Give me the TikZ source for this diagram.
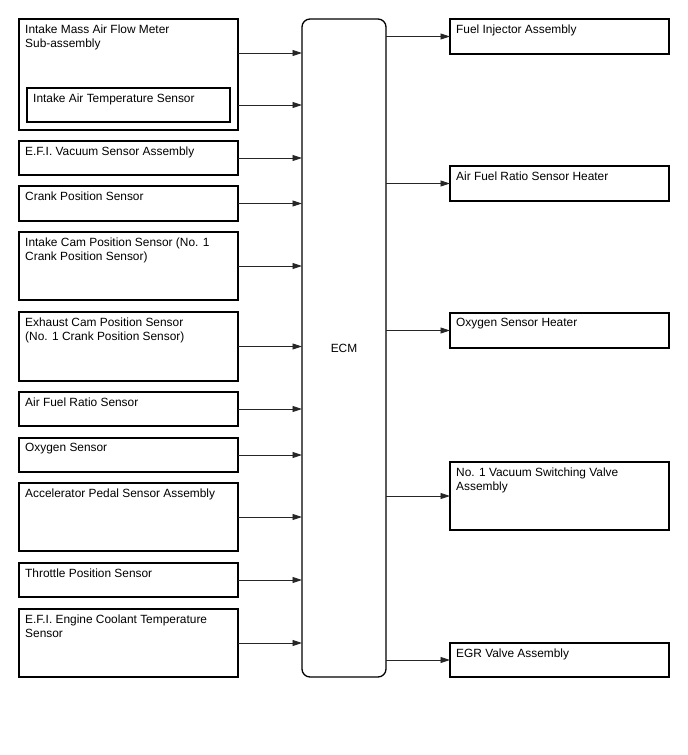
\documentclass[tikz,border=0pt]{standalone}
\usepackage{fontspec}
\setmainfont{Liberation Sans}
\usetikzlibrary{arrows.meta}
\tikzset{
  boxst/.style={draw=black, line width=1.3pt, fill=white, inner sep=0pt, outer sep=0pt, anchor=north west},
  txt/.style={anchor=north west, inner sep=0pt, align=left, font=\fontsize{11.9}{14}\selectfont},
  arr/.style={draw=black!85, line width=0.9pt, -{Triangle[length=9.5pt,width=6pt]}},
  ecmst/.style={inner sep=0pt, outer sep=0pt, anchor=north west, font=\fontsize{11.9}{14}\selectfont}
}
\newcommand{\mybox}[6]{%
  \node[boxst, minimum width=#4pt-#2pt, minimum height=#5pt-#3pt] (#1) at (#2pt,-#3pt) {};
  \node[txt] (#1t) at ([xshift=6pt,yshift=-5.3pt]#1.north west) {#6};
}
\begin{document}
\begin{tikzpicture}
\useasboundingbox (0,0) rectangle (688pt,-755pt);
% ECM
\node[ecmst, minimum width=84pt, minimum height=658pt] (ecm) at (302pt,-19pt) {ECM};
\draw[black, line width=1.3pt, rounded corners=8pt] (ecm.north west) rectangle (ecm.south east);
% left boxes
\mybox{b1}{19}{19}{238}{130}{Intake Mass Air Flow Meter\\Sub-assembly}
\mybox{b1i}{27}{88}{230}{122}{Intake Air Temperature Sensor}
\mybox{b2}{19}{141}{238}{175}{E.F.I. Vacuum Sensor Assembly}
\mybox{b3}{19}{186}{238}{221}{Crank Position Sensor}
\mybox{b4}{19}{232}{238}{300}{Intake Cam Position Sensor (No. 1\\Crank Position Sensor)}
\mybox{b5}{19}{312}{238}{381}{Exhaust Cam Position Sensor\\(No. 1 Crank Position Sensor)}
\mybox{b6}{19}{392}{238}{426}{Air Fuel Ratio Sensor}
\mybox{b7}{19}{438}{238}{472}{Oxygen Sensor}
\mybox{b8}{19}{483}{238}{551}{Accelerator Pedal Sensor Assembly}
\mybox{b9}{19}{563}{238}{597}{Throttle Position Sensor}
\mybox{b10}{19}{609}{238}{677}{E.F.I. Engine Coolant Temperature\\Sensor}
% right boxes
\mybox{r1}{450}{19}{669}{54}{Fuel Injector Assembly}
\mybox{r2}{450}{166}{669}{201}{Air Fuel Ratio Sensor Heater}
\mybox{r3}{450}{313}{669}{348}{Oxygen Sensor Heater}
\mybox{r4}{450}{462}{669}{530}{No. 1 Vacuum Switching Valve\\Assembly}
\mybox{r5}{450}{643}{669}{677}{EGR Valve Assembly}
% left connectors
\draw[arr] ([yshift=-34pt]b1.north east) -- ([yshift=-34pt]b1.north east -| ecm.west);
\draw[arr] (b1i.east -| b1.east) -- (b1i.east -| ecm.west);
\foreach \b in {b2,b3,b4,b5,b6,b7,b8,b9,b10}
  \draw[arr] (\b.east) -- (\b.east -| ecm.west);
% right connectors
\foreach \r in {r1,r2,r3,r4,r5}
  \draw[arr] (\r.west -| ecm.east) -- (\r.west);
\end{tikzpicture}
\end{document}
